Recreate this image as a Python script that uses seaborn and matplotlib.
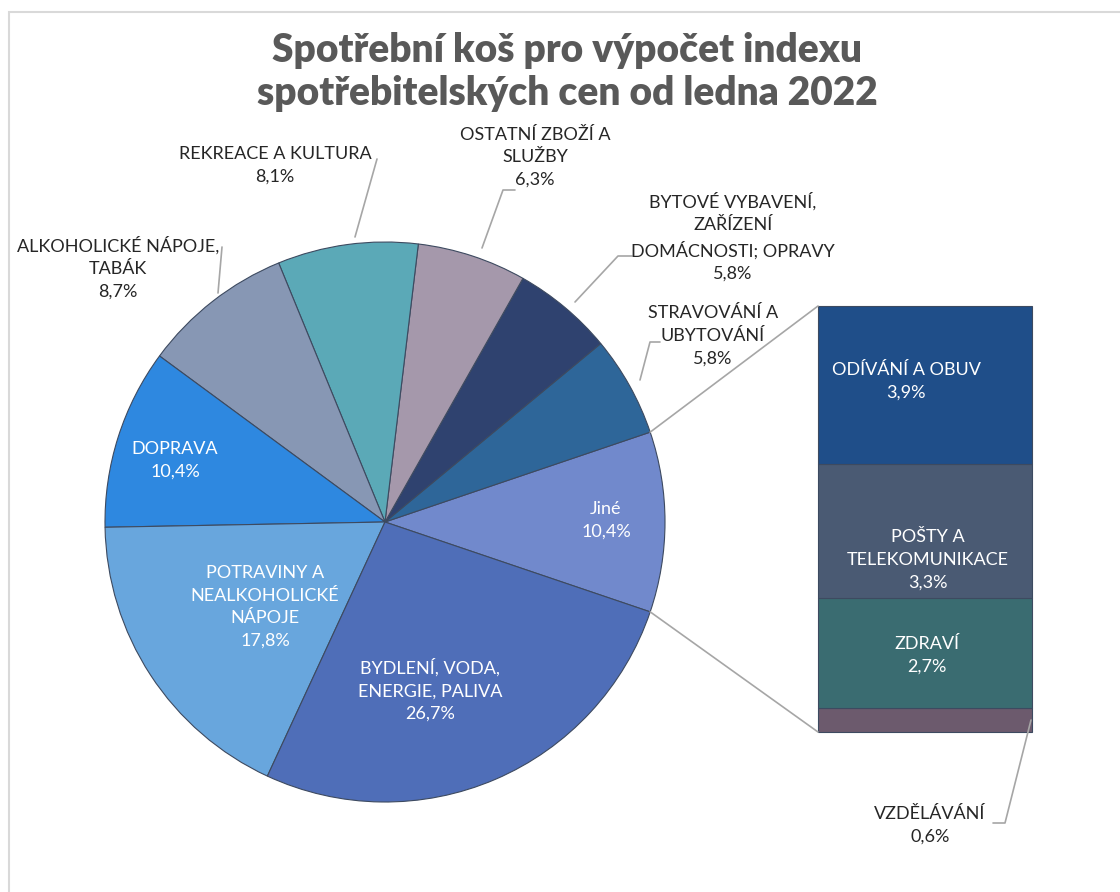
import numpy as np
import matplotlib
matplotlib.use("Agg")
import matplotlib.pyplot as plt
import seaborn as sns

# pie slices, counterclockwise starting with the "Jiné" slice
pie_labels = ["Jiné", "STRAVOVÁNÍ A\nUBYTOVÁNÍ", "BYTOVÉ VYBAVENÍ,\nZAŘÍZENÍ\nDOMÁCNOSTI; OPRAVY",
              "OSTATNÍ ZBOŽÍ A\nSLUŽBY", "REKREACE A KULTURA", "ALKOHOLICKÉ NÁPOJE,\nTABÁK",
              "DOPRAVA", "POTRAVINY A\nNEALKOHOLICKÉ\nNÁPOJE", "BYDLENÍ, VODA,\nENERGIE, PALIVA"]
pie_values = [10.4, 5.8, 5.8, 6.3, 8.1, 8.7, 10.4, 17.8, 26.7]
pie_colors = ["#7189cc", "#2e6699", "#2f426f", "#a598ab", "#5ba9b7", "#8797b4",
              "#2e88e0", "#68a6dd", "#4f6eb8"]

# breakdown of "Jiné", bottom to top
bar_labels = ["VZDĚLÁVÁNÍ", "ZDRAVÍ", "POŠTY A\nTELEKOMUNIKACE", "ODÍVÁNÍ A OBUV"]
bar_values = [0.6, 2.7, 3.3, 3.9]
bar_colors = ["#6c5a6d", "#3a6c71", "#4a5a73", "#1f4e89"]

title = "Spotřební koš pro výpočet indexu\nspotřebitelských cen od ledna 2022"

W, H = 1120, 892
sns.set_theme(style="white")
plt.rcParams["font.family"] = ["Lato", "DejaVu Sans"]

fig = plt.figure(figsize=(W / 100, H / 100), dpi=100)
ax = fig.add_axes([0, 0, 1, 1])


def Y(y):
    # image pixel row -> data y
    return H - y


def pct(v):
    return f"{v:.1f}".replace(".", ",") + "%"


# chart frame
ax.add_patch(plt.Rectangle((9, -10), W + 20, Y(12) + 10, fill=False,
                           edgecolor="#d9d9d9", linewidth=1.5))

cx, cy, r = 385, Y(522), 280
start = -pie_values[0] / sum(pie_values) * 180
ax.pie(pie_values, colors=pie_colors, startangle=start, center=(cx, cy), radius=r,
       wedgeprops=dict(edgecolor="#3d4a60", linewidth=0.8), frame=True)
ax.set_xlim(0, W)
ax.set_ylim(0, H)
ax.set_aspect("equal")
ax.axis("off")

# bar of pie
bx, bw, bbot, btop = 925, 214, Y(732), Y(306)
scale = (btop - bbot) / sum(bar_values)
bottoms = np.concatenate([[0], np.cumsum(bar_values)[:-1]])
ax.bar([bx] * len(bar_values), np.array(bar_values) * scale, width=bw,
       bottom=bbot + bottoms * scale, color=bar_colors, edgecolor="#3d4a60", linewidth=0.8)

# connectors from the "Jiné" slice edges to the bar corners
a = np.deg2rad(start)
for sgn, yb in [(-1, btop), (1, bbot)]:
    ax.plot([cx + r * np.cos(a), bx - bw / 2], [cy + sgn * r * np.sin(a), yb],
            color="#a6a6a6", lw=1.2)

# label positions (image pixels) and colours
pie_pos = [(606, 520), (713, 336), (733, 237), (535, 157), (275, 165), (118, 268),
           (175, 460), (265, 607), (430, 690)]
pie_txt = ["white", "#262626", "#262626", "#262626", "#262626", "#262626",
           "white", "white", "white"]
for lab, v, (x, y), c in zip(pie_labels, pie_values, pie_pos, pie_txt):
    ax.text(x, Y(y), lab + "\n" + pct(v), ha="center", va="center", color=c,
            fontsize=13, linespacing=1.5)

bar_pos = [(930, 825), (927, 655), (928, 560), (906, 381)]
bar_txt = ["#262626", "white", "white", "white"]
for lab, v, (x, y), c in zip(bar_labels, bar_values, bar_pos, bar_txt):
    ax.text(x, Y(y), lab + "\n" + pct(v), ha="center", va="center", color=c,
            fontsize=13, linespacing=1.5)

# leader lines (image pixels)
leaders = [
    [(377, 159), (355, 237)],
    [(515, 190), (503, 190), (482, 248)],
    [(632, 256), (618, 256), (575, 302)],
    [(660, 342), (650, 342), (640, 380)],
    [(222, 247), (218, 293)],
    [(993, 823), (1005, 823), (1031, 720)],
]
for pts in leaders:
    xs, ys = zip(*pts)
    ax.plot(xs, [Y(v) for v in ys], color="#a6a6a6", lw=1.2)

ax.text(567, Y(72), title, ha="center", va="center", fontsize=28, fontweight="heavy",
        color="#595959", linespacing=1.22)

fig.savefig("out.png", dpi=100)
